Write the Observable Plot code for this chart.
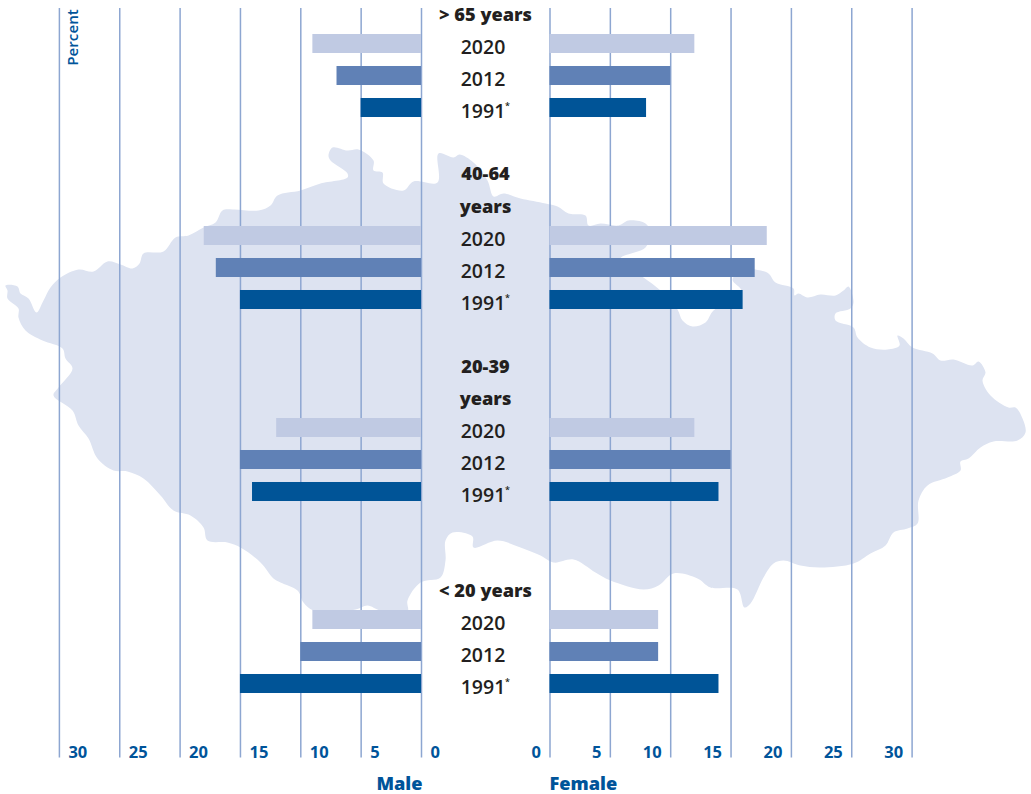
<!DOCTYPE html>
<html>
<head>
<meta charset="utf-8">
<style>
html,body{margin:0;padding:0;background:#fff;}
svg{display:block;}
</style>
<script src="https://cdn.jsdelivr.net/npm/d3@7"></script>
<script src="https://cdn.jsdelivr.net/npm/@observablehq/plot@0.6"></script>
</head>
<body>
<script>
const ageGroups = ["> 65 years", "40-64 years", "20-39 years", "< 20 years"];
const years = ["2020", "2012", "1991"];
const male2020 = [9, 18, 12, 9];
const male2012 = [7, 17, 15, 10];
const male1991 = [5, 15, 14, 15];
const female2020 = [12, 18, 12, 9];
const female2012 = [10, 17, 15, 9];
const female1991 = [8, 16, 14, 14];
const axisTicks = [0, 5, 10, 15, 20, 25, 30];
const yearColors = ["#c0cae3", "#6081b6", "#005497"];

// Decorative country silhouette
const silhouette = [
[5,285],[17,286],[20,293],[28,298],[36,312],[43,300],[50,287],[60,277],[78,269],[93,271],[107,261],[120,264],[132,268],[139,263],[143,253],[163,251],[175,237],[188,235],[203,227],[215,222],[222,210],[233,209],[258,210],[270,205],[277,195],[300,190],[320,183],[347,177],[347,173],[330,160],[328,155],[332,147],[347,150],[358,149],[373,160],[373,170],[382,172],[383,183],[403,190],[413,181],[437,182],[438,153],[453,157],[459,154],[473,162],[487,180],[493,196],[503,193],[520,198],[545,203],[557,206],[568,213],[585,215],[588,225],[600,223],[618,225],[628,220],[645,223],[650,232],[645,247],[620,258],[630,268],[643,277],[660,290],[677,309],[682,320],[692,326],[705,322],[713,310],[735,298],[741,290],[732,279],[745,268],[755,269],[768,273],[775,282],[793,288],[794,295],[798,293],[807,297],[820,294],[835,295],[843,290],[848,286],[853,302],[850,308],[835,313],[835,320],[853,327],[857,337],[870,347],[887,349],[899,345],[897,335],[903,338],[912,347],[932,353],[940,360],[953,359],[972,365],[978,361],[985,372],[982,380],[990,395],[1008,407],[1015,407],[1022,418],[1025,432],[1017,440],[993,441],[980,447],[968,458],[960,461],[960,470],[947,477],[927,485],[918,500],[917,523],[907,528],[893,532],[885,545],[870,553],[853,563],[820,567],[800,565],[783,560],[773,563],[763,577],[750,603],[744,607],[737,589],[710,587],[697,578],[673,573],[658,585],[643,589],[610,580],[595,572],[573,559],[553,562],[540,555],[520,547],[497,540],[473,547],[472,536],[452,532],[445,540],[445,560],[440,577],[420,582],[407,600],[407,611],[380,610],[367,605],[355,609],[313,610],[303,602],[297,590],[280,582],[273,578],[260,562],[240,547],[227,542],[207,540],[203,527],[190,515],[173,510],[160,495],[143,478],[127,471],[113,470],[97,458],[88,438],[78,425],[72,410],[53,395],[58,387],[72,368],[65,358],[62,348],[42,340],[25,330],[18,317],[18,308],[7,298],[7,290]
];

// Chart geometry: two mirrored axes on one x scale, rows on one y scale
const W = 1031, H = 794;
const pxPerPct = 12.07, pxPerRow = 32, centerPx = 485.25, firstRowPx = 43.5;
const gap = 64.25 / pxPerPct;
const maleX = v => -(v + gap);
const femaleX = v => v + gap;
const xFromTrace = p => (p - centerPx) / pxPerPct;
const yFromTrace = p => (p - firstRowPx) / pxPerRow;

const groupRows = [0, 6, 12, 18];
const maleSeries = [male2020, male2012, male1991];
const femaleSeries = [female2020, female2012, female1991];
const bars = [];
years.forEach((year, j) => ageGroups.forEach((g, i) => {
  const row = groupRows[i] + j;
  bars.push({x1: maleX(0), x2: maleX(maleSeries[j][i]), row, year});
  bars.push({x1: femaleX(0), x2: femaleX(femaleSeries[j][i]), row, year});
}));
const yearRows = groupRows.flatMap(r => years.map((year, j) => ({year, row: r + j})));
const headingRows = [
  {label: "> 65 years", row: -0.89},
  {label: "40-64", row: 4.08},
  {label: "years", row: 5.09},
  {label: "20-39", row: 10.1},
  {label: "years", row: 11.09},
  {label: "< 20 years", row: 17.1}
];
const gridTop = yFromTrace(8), gridBottom = yFromTrace(757.5), tickRow = yFromTrace(752), sexRow = yFromTrace(784);
const blue = "#00549a", ink = "#231f20", grid = "#8da6d1", sans = "'Open Sans'";

const chart = Plot.plot({
  width: W, height: H,
  marginTop: 0, marginRight: 0, marginBottom: 0, marginLeft: 0,
  x: {domain: [xFromTrace(0), xFromTrace(W)], range: [0, W], axis: null},
  y: {domain: [yFromTrace(0), yFromTrace(H)], range: [0, H], axis: null},
  style: {background: "#fff"},
  marks: [
    Plot.line(silhouette, {x: d => xFromTrace(d[0]), y: d => yFromTrace(d[1]), fill: "#dde3f1", stroke: "none", curve: "catmull-rom-closed"}),
    Plot.ruleX(axisTicks, {x: maleX, y1: gridTop, y2: gridBottom, stroke: grid, strokeWidth: 1.5}),
    Plot.ruleX(axisTicks, {x: femaleX, y1: gridTop, y2: gridBottom, stroke: grid, strokeWidth: 1.5}),
    Plot.rect(bars, {x1: "x1", x2: "x2", y1: d => d.row - 0.297, y2: d => d.row + 0.297, fill: d => yearColors[years.indexOf(d.year)]}),
    Plot.text(axisTicks, {x: maleX, y: tickRow, text: d => String(d), dx: 9, textAnchor: "start", fill: blue, fontSize: 16.5, fontWeight: 700, fontFamily: sans}),
    Plot.text(axisTicks, {x: femaleX, y: tickRow, text: d => String(d), dx: -9, textAnchor: "end", fill: blue, fontSize: 16.5, fontWeight: 700, fontFamily: sans}),
    Plot.text(yearRows, {x: xFromTrace(482.5), y: d => d.row + 0.115, text: "year", fill: ink, fontSize: 19.5, fontWeight: 600, fontFamily: sans}),
    Plot.text(yearRows.filter(d => d.year === "1991"), {x: xFromTrace(507), y: d => d.row - 0.06, text: () => "*", fill: ink, fontSize: 9, fontWeight: 600, fontFamily: sans}),
    Plot.text(headingRows, {x: xFromTrace(485), y: "row", text: "label", fill: ink, fontSize: 18.2, fontWeight: 800, fontFamily: sans}),
    Plot.text(["Percent"], {x: xFromTrace(73), y: yFromTrace(37), rotate: -90, fill: blue, fontSize: 15.2, fontWeight: 600, fontFamily: sans}),
    Plot.text(["Male"], {x: xFromTrace(422), y: sexRow, textAnchor: "end", fill: blue, fontSize: 18.2, fontWeight: 800, fontFamily: sans}),
    Plot.text(["Female"], {x: xFromTrace(549), y: sexRow, textAnchor: "start", fill: blue, fontSize: 18.2, fontWeight: 800, fontFamily: sans})
  ]
});
document.body.appendChild(chart);
</script>
</body>
</html>
